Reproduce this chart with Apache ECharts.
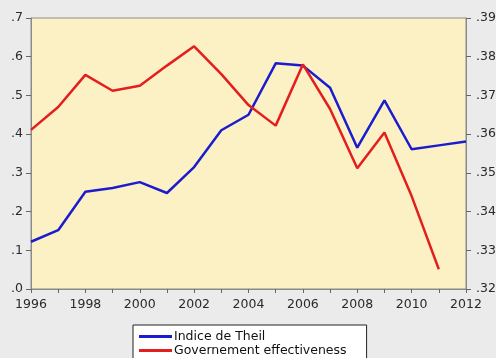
<!DOCTYPE html>
<html>
<head>
<meta charset="utf-8">
<script src="https://cdn.jsdelivr.net/npm/echarts@6/dist/echarts.min.js"></script>
<style>
  html, body { margin: 0; padding: 0; background: #ebebeb; }
  #chart { width: 496px; height: 358px; }
</style>
</head>
<body>
<div id="chart"></div>
<script>
var years = ['1996', '1997', '1998', '1999', '2000', '2001', '2002', '2003', '2004',
  '2005', '2006', '2007', '2008', '2009', '2010', '2011', '2012'];

// Indice de Theil (left axis)
var theil = [0.122, 0.152, 0.251, 0.261, 0.276, 0.248, 0.315, 0.41, 0.45,
  0.583, 0.577, 0.52, 0.365, 0.487, 0.361, 0.371, 0.381];

// Governement effectiveness (right axis)
var govEff = [0.3611, 0.367, 0.3753, 0.3712, 0.3725, 0.3777, 0.3827, 0.3755, 0.3675,
  0.3622, 0.378, 0.3665, 0.3512, 0.3604, 0.344, 0.3251];

var chart = echarts.init(document.getElementById('chart'));

function dropZero(v, digits) {
  return v.toFixed(digits).replace(/^0/, '');
}

var labelStyle = {
  color: '#2a2a2a',
  fontFamily: 'DejaVu Sans, sans-serif',
  fontSize: 12.5
};

var option = {
  backgroundColor: '#ebebeb',
  animation: false,
  grid: {
    left: 31,
    right: 30,
    top: 18,
    bottom: 69,
    outerBoundsMode: 'none',
    containLabel: false,
    show: true,
    backgroundColor: '#fcf1c4',
    borderColor: '#8a8a8a',
    borderWidth: 1
  },
  legend: {
    orient: 'vertical',
    left: 133,
    top: 325,
    height: 60,
    backgroundColor: '#ffffff',
    borderColor: '#222',
    borderWidth: 1,
    padding: [5, 20, 6, 6],
    itemGap: 1,
    itemWidth: 33,
    itemHeight: 3,
    icon: 'rect',
    textStyle: {
      color: '#111',
      fontFamily: 'DejaVu Sans, sans-serif',
      fontSize: 12.5,
      padding: [0, 0, 0, -3]
    },
    data: ['Indice de Theil', 'Governement effectiveness']
  },
  xAxis: {
    type: 'category',
    data: years,
    boundaryGap: false,
    axisLine: { lineStyle: { color: '#8a8a8a' } },
    axisTick: { interval: 0, length: 4, lineStyle: { color: '#666' } },
    axisLabel: Object.assign({ interval: 1, margin: 9 }, labelStyle),
    splitLine: { show: false }
  },
  yAxis: [
    {
      type: 'value',
      min: 0,
      max: 0.7,
      interval: 0.1,
      axisLine: { show: true, lineStyle: { color: '#8a8a8a' } },
      axisTick: { show: true, length: 5, lineStyle: { color: '#666' } },
      axisLabel: Object.assign({
        margin: 8,
        formatter: function (v) { return dropZero(v, 1); }
      }, labelStyle),
      splitLine: { show: false }
    },
    {
      type: 'value',
      min: 0.32,
      max: 0.39,
      interval: 0.01,
      position: 'right',
      axisLine: { show: true, lineStyle: { color: '#8a8a8a' } },
      axisTick: { show: true, length: 5, lineStyle: { color: '#666' } },
      axisLabel: Object.assign({
        margin: 10,
        formatter: function (v) { return dropZero(v, 2); }
      }, labelStyle),
      splitLine: { show: false }
    }
  ],
  series: [
    {
      name: 'Indice de Theil',
      type: 'line',
      yAxisIndex: 0,
      data: theil,
      symbol: 'none',
      color: '#1c1ccf',
      lineStyle: { width: 2.5, color: '#1c1ccf' }
    },
    {
      name: 'Governement effectiveness',
      type: 'line',
      yAxisIndex: 1,
      data: govEff,
      symbol: 'none',
      color: '#e41e1e',
      lineStyle: { width: 2.5, color: '#e41e1e' }
    }
  ]
};

chart.setOption(option);
</script>
</body>
</html>
